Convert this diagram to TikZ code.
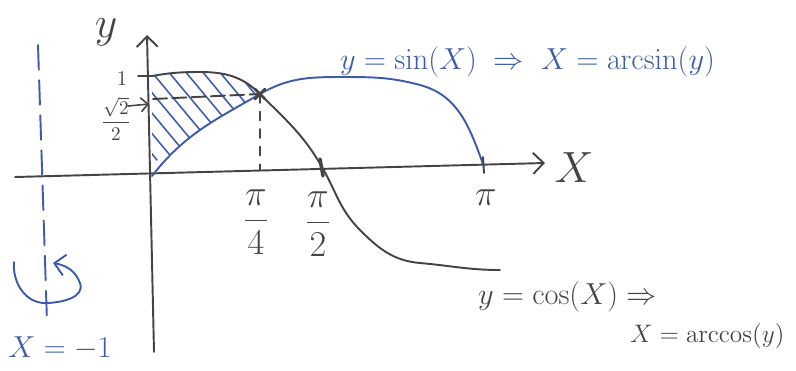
\documentclass[tikz,border=0pt]{standalone}
\usepackage{amsmath}
\usetikzlibrary{arrows.meta}
\definecolor{penblue}{RGB}{62,92,170}
\definecolor{pengray}{RGB}{68,68,68}
\tikzset{
  pen/.style={pengray, line width=1.1pt, line cap=round, line join=round},
  bluepen/.style={pen, penblue},
  barb/.style={-{Straight Barb[length=6pt,width=12pt]}},
  lbl/.style={pengray, inner sep=1pt, font=\fontsize{17}{19}\selectfont},
  bluelbl/.style={lbl, penblue},
}
\begin{document}
\begin{tikzpicture}[x=0.02cm, y=-0.02cm]
	\useasboundingbox (0,0) rectangle (796,370);
	% Axes:
	\coordinate (O) at (152,176);
	\coordinate (xstart) at (15,177);
	\coordinate (xend) at (545,163);
	\coordinate (ystart) at (154,352);
	\coordinate (yend) at (147,35);
	\draw[pen, barb] (xstart) -- (xend);
	\draw[pen, barb] (ystart) -- (yend);
	\node[lbl, font=\fontsize{30}{30}\selectfont] (xlabel) at (574,168) {$X$};
	\node[lbl, font=\fontsize{40}{40}\selectfont] (ylabel) at (106,32) {$y$};
	% Hatched region:
	\coordinate (I) at (260,94);
	\coordinate (T1e) at (152,76);
	\coordinate (ctop) at (200,72);
	\begin{scope}
		\clip (O) to[out=52, in=-150] (I) to[out=135, in=0] (ctop) to[out=180, in=10] (T1e) -- cycle;
		\foreach \s in {40,57,...,260}
			\draw[bluepen, line width=0.9pt] (\s,40) -- ++(100,120);
	\end{scope}
	% Curves:
	\coordinate (T2) at (322,167);
	\coordinate (Tp) at (483,164);
	\draw[bluepen] (O) to[out=52, in=-150] (I) to[out=30, in=180] (340,77)
		to[out=0, in=165] (420,85) to[out=-15, in=110] (Tp);
	\draw[pen] (T1e) to[out=10, in=180] (ctop) to[out=0, in=135] (I) to[out=-45, in=120] (T2)
		to[out=-60, in=135] (360,230) to[out=-45, in=175] (420,263) to[out=-5, in=180] (500,270);
	% Ticks and guides:
	\coordinate (T1) at (138,76);
	\coordinate (Y2) at (153,99);
	\coordinate (T4) at (260,170);
	\draw[pen] (T1) -- (T1e);
	\draw[pen, line width=2pt] (320,159) -- (323,176);
	\draw[pen] (483,157) -- (484,173);
	\draw[pen, dash pattern=on 8pt off 3pt] (Y2) -- (I);
	\draw[pen, dash pattern=on 5pt off 5pt] (I) -- (T4);
	\draw[pen, line width=1.6pt] (255,89) -- (265,99) (255,99) -- (265,89);
	% Labels on the axes:
	\node[lbl, font=\fontsize{13}{13}\selectfont] (one) at (122,79) {$1$};
	\node[lbl, font=\fontsize{11}{11}\selectfont] (half) at (116,119) {$\dfrac{\sqrt{2}}{2}$};
	\coordinate (Yt) at (149,104);
	\draw[pen, line width=0.9pt, -{Straight Barb[length=4pt,width=8pt]}] (128,106) -- (Yt);
	\node[lbl, font=\fontsize{20}{20}\selectfont] (pi4) at (256,222) {$\dfrac{\pi}{4}$};
	\node[lbl, font=\fontsize{20}{20}\selectfont] (pi2) at (318,224) {$\dfrac{\pi}{2}$};
	\node[lbl, font=\fontsize{22}{22}\selectfont] (pi) at (486,198) {$\pi$};
	% Equations:
	\node[bluelbl, anchor=west] (sineq) at (338,62) {$y=\sin(X) \;\Rightarrow\; X=\arcsin(y)$};
	\node[lbl, anchor=west, font=\fontsize{16}{18}\selectfont] (coseq) at (476,297) {$y=\cos(X) \Rightarrow$};
	\node[lbl, anchor=west, font=\fontsize{15}{17}\selectfont] (acoseq) at (628,336) {$X=\arccos(y)$};
	% Axis of rotation:
	\coordinate (rtop) at (38,45);
	\coordinate (rbot) at (47,322);
	\draw[bluepen, dash pattern=on 14pt off 6pt] (rtop) -- (rbot);
	\coordinate (rs) at (14,262);
	\coordinate (re) at (53,263);
	\draw[bluepen, barb] (rs) to[out=-95, in=180] (45,303) to[out=0, in=-70] (80,283) to[out=110, in=-10] (re);
	\node[bluelbl] (xm1) at (60,348) {$X=-1$};
\end{tikzpicture}
\end{document}
